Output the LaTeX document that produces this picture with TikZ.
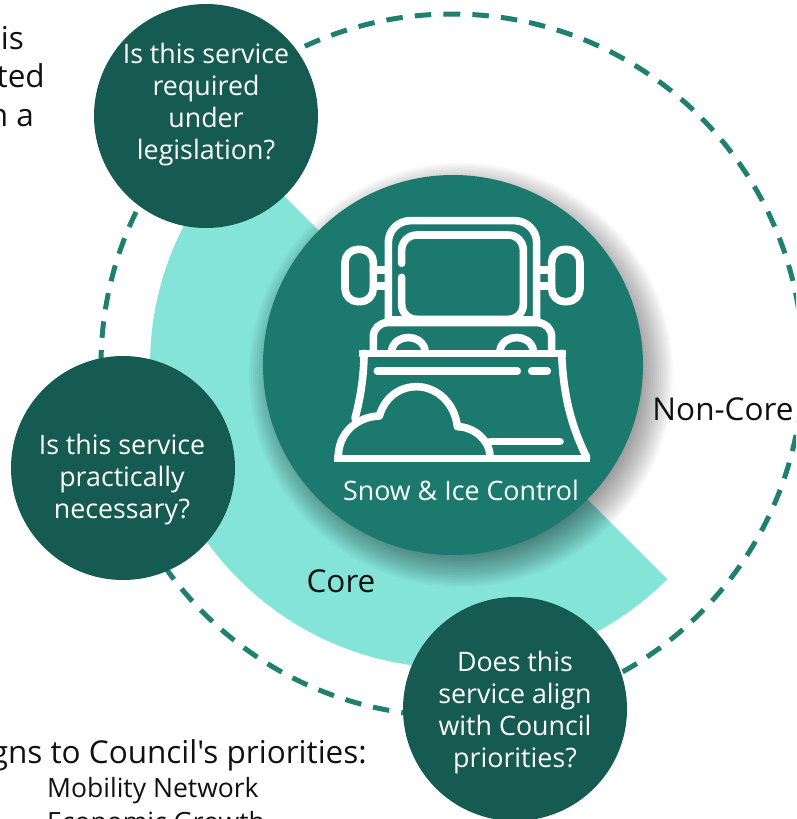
\documentclass[tikz,border=0pt]{standalone}
\usepackage{fontspec}
\setmainfont{Open Sans}
\newfontfamily\rawsans{Open Sans}
\usetikzlibrary{calc}
\definecolor{darkteal}{HTML}{165B52}
\definecolor{midteal}{HTML}{1C796D}
\definecolor{lightteal}{HTML}{84E4D8}
\definecolor{dashteal}{HTML}{1F8070}
\definecolor{inktext}{HTML}{111111}
\tikzset{
  question/.style={circle,fill=darkteal,minimum size=224pt,inner sep=0pt},
  qtext/.style={text=white,inner sep=0pt,align=center,font=\fontsize{26.8}{32}\selectfont},
  plain/.style={text=inktext,inner sep=0pt,font=\fontsize{31.5}{36}\selectfont},
  small/.style={text=inktext,inner sep=0pt,font=\fontsize{26.5}{32}\selectfont},
  iconline/.style={draw=white,line width=7.6pt,line cap=round,line join=round},
}
\begin{document}
\begin{tikzpicture}[x=1pt,y=-1pt]
\useasboundingbox (0,0) rectangle (796,819);
\clip (0,0) rectangle (796,819);
% text behind
\node[plain,anchor=base east] (ta) at (24,49) {is};
\node[plain,anchor=base east] (tb) at (45,87) {ted};
\node[plain,anchor=base east] (tc) at (34,126) {n a};
\node[plain,anchor=base east] (pa) at (367,763) {\rawsans gns to Council's priorities:};
\node[small,anchor=base west] (pb) at (47,797) {Mobility Network};
\node[small,anchor=base west] (pc) at (47,831) {Economic Growth};
% dashed ring
\draw[dashteal,line width=5pt,dash pattern=on 16.5pt off 12.14pt,dash phase=8.25pt]
  (452,14) arc[start angle=-90,end angle=270,radius=351];
% wedge
\fill[lightteal] (453,365) -- ($(453,365)+(-45:303 and -303)$) arc[start angle=45,end angle=225,radius=303] -- cycle;
% shadow
\foreach \r in {0,2,...,40}{
  \fill[black,opacity=0.026] (461,375) circle[radius=172+\r];
}
% centre
\node[circle,fill=midteal,minimum size=380pt,inner sep=0pt] (hub) at (453,365) {};
\begin{scope}[shift={(320,200)},x=1pt/3,y=-1pt/3]
  \draw[iconline,rounded corners=22pt] (205,365) -- (205,62) -- (650,62) -- (650,365);
  \draw[iconline,rounded corners=15pt] (245,190) -- (245,105) -- (610,105) -- (610,358) -- (245,358) -- (245,232);
  \draw[iconline] (205,358) -- (650,358);
  \draw[iconline,rounded corners=13pt] (75,148) rectangle (160,305);
  \draw[iconline,rounded corners=13pt] (695,148) rectangle (780,305);
  \draw[iconline] (160,210) -- (205,210) (160,258) -- (205,258) (650,210) -- (695,210) (650,258) -- (695,258);
  \draw[iconline,rounded corners=14pt] (160,455) -- (160,368) -- (695,368) -- (695,455);
  \draw[iconline] (215,450) .. controls (225,400) and (305,400) .. (315,450);
  \draw[iconline] (540,450) .. controls (550,400) and (630,400) .. (640,450);
  \draw[iconline,line cap=butt] (118,460) -- (738,460);
  \draw[iconline] (132,460) .. controls (132,530) and (120,600) .. (105,655);
  \draw[iconline] (725,460) .. controls (730,590) and (755,680) .. (800,772);
  \draw[iconline] (172,513) -- (592,513);
  \draw[iconline] (635,513) -- (682,513);
  \draw[iconline,line cap=butt] (42,775) -- (810,775);
  \draw[iconline] (55,770) .. controls (55,700) and (110,650) .. (178,648)
     .. controls (195,590) and (240,560) .. (290,560)
     .. controls (350,560) and (405,610) .. (412,680)
     .. controls (460,680) and (510,720) .. (510,770);
  \draw[iconline] (510,725) -- (720,725);
\end{scope}
\node[qtext] (hubtext) at (461,490) {Snow \& Ice Control};
% questions
\node[question] (q1) at (206,116) {};
\node[qtext] (q1t) at (206,105) {Is this service\\required\\under\\legislation?};
\node[question] (q2) at (123,468) {};
\node[qtext] (q2t) at (122,480) {Is this service\\practically\\necessary?};
\node[question] (q3) at (515,709) {};
\node[qtext] (q3t) at (515,713) {Does this\\service align\\with Council\\priorities?};
\node[plain,anchor=base] (core) at (341,592) {Core};
\node[plain,anchor=base] (noncore) at (723,420) {Non-Core};
\end{tikzpicture}
\end{document}
